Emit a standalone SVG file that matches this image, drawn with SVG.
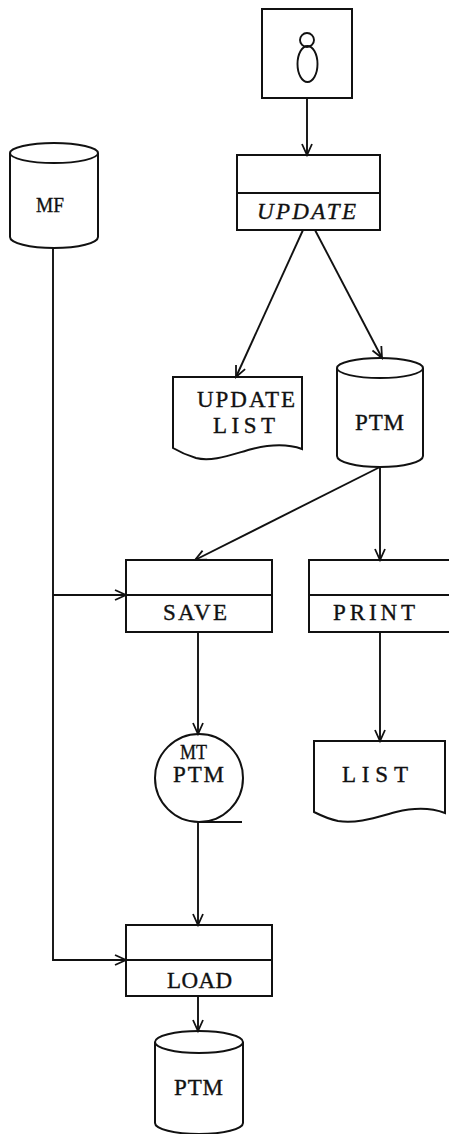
<svg xmlns="http://www.w3.org/2000/svg" width="449" height="1134" viewBox="0 0 449 1134">
  <defs>
    <marker id="arrow" markerUnits="userSpaceOnUse" markerWidth="14" markerHeight="12" refX="11" refY="5" orient="auto" overflow="visible">
      <path d="M0,0 L11,5 L0,10" fill="none" stroke="#111" stroke-width="1.8"/>
    </marker>
    <style>
      .shape { fill: #fff; stroke: #111; stroke-width: 2; }
      .line { fill: none; stroke: #111; stroke-width: 1.9; }
      .edge { fill: none; stroke: #111; stroke-width: 1.9; marker-end: url(#arrow); }
      .label { font-family: "Liberation Serif", "DejaVu Serif", serif; font-size: 23px; fill: #111; stroke: #111; stroke-width: 0.35; }
      .small { font-size: 21px; }
      .ital { font-style: italic; }
    </style>
  </defs>
  <rect width="449" height="1134" fill="#fff"/>

  <!-- operator console -->
  <g id="console">
    <rect class="shape" x="262" y="9" width="90" height="89"/>
    <circle class="line" cx="307" cy="40" r="7"/>
    <ellipse class="line" cx="307.5" cy="64" rx="10" ry="18"/>
  </g>

  <!-- UPDATE process -->
  <g id="update">
    <rect class="shape" x="237" y="155" width="143" height="75"/>
    <line class="line" x1="237" y1="193" x2="380" y2="193"/>
    <text class="label ital" x="257" y="219" textLength="99" lengthAdjust="spacing">UPDATE</text>
  </g>

  <!-- MF disk file -->
  <g id="mf">
    <path class="shape" d="M10,153 A44,10 0 0 1 98,153 L98,237 A44,11 0 0 1 10,237 Z"/>
    <path class="line" d="M10,153 A44,10 0 0 0 98,153"/>
    <text class="label small" x="36" y="212" textLength="28" lengthAdjust="spacingAndGlyphs">MF</text>
  </g>

  <!-- UPDATE LIST report -->
  <g id="update-list">
    <path class="shape" d="M173,377 L302,377 L302,449 C288,444 272,444 252,449 C230,455 212,462 196,458 C186,455 178,451 173,448 Z"/>
    <text class="label" x="197" y="407" textLength="98" lengthAdjust="spacing">UPDATE</text>
    <text class="label" x="213" y="433" textLength="62" lengthAdjust="spacing">LIST</text>
  </g>

  <!-- PTM disk file -->
  <g id="ptm-1">
    <path class="shape" d="M337,368 A43,10 0 0 1 423,368 L423,456 A43,11 0 0 1 337,456 Z"/>
    <path class="line" d="M337,368 A43,10 0 0 0 423,368"/>
    <text class="label" x="355" y="430" textLength="49" lengthAdjust="spacing">PTM</text>
  </g>

  <!-- SAVE process -->
  <g id="save">
    <rect class="shape" x="126" y="560" width="146" height="72"/>
    <line class="line" x1="126" y1="595" x2="272" y2="595"/>
    <text class="label" x="163" y="620" textLength="64" lengthAdjust="spacing">SAVE</text>
  </g>

  <!-- PRINT process -->
  <g id="print">
    <rect class="shape" x="309" y="560" width="160" height="72"/>
    <line class="line" x1="309" y1="595" x2="469" y2="595"/>
    <text class="label" x="333" y="620" textLength="82" lengthAdjust="spacing">PRINT</text>
  </g>

  <!-- MT PTM magnetic tape -->
  <g id="mt-ptm">
    <circle class="shape" cx="199" cy="778" r="44"/>
    <line class="line" x1="199" y1="822" x2="242" y2="822"/>
    <text class="label small" x="180" y="759" textLength="27" lengthAdjust="spacingAndGlyphs">MT</text>
    <text class="label" x="173" y="782" textLength="51" lengthAdjust="spacing">PTM</text>
  </g>

  <!-- LIST report -->
  <g id="list">
    <path class="shape" d="M314,741 L445,741 L445,813 C432,808 416,807 396,812 C374,818 356,824 338,821 C328,819 320,815 314,812 Z"/>
    <text class="label" x="342" y="782" textLength="66" lengthAdjust="spacing">LIST</text>
  </g>

  <!-- LOAD process -->
  <g id="load">
    <rect class="shape" x="126" y="925" width="146" height="71"/>
    <line class="line" x1="126" y1="960" x2="272" y2="960"/>
    <text class="label" x="167" y="988" textLength="65" lengthAdjust="spacing">LOAD</text>
  </g>

  <!-- PTM disk file (reloaded) -->
  <g id="ptm-2">
    <path class="shape" d="M155,1042 A44,11 0 0 1 243,1042 L243,1123 A44,11 0 0 1 155,1123 Z"/>
    <path class="line" d="M155,1042 A44,11 0 0 0 243,1042"/>
    <text class="label" x="174" y="1095" textLength="49" lengthAdjust="spacing">PTM</text>
  </g>

  <!-- flow lines -->
  <g id="connectors">
    <line class="edge" x1="307" y1="98" x2="307" y2="155"/>
    <line class="edge" x1="303" y1="230" x2="236" y2="377"/>
    <line class="edge" x1="315" y1="230" x2="382" y2="358"/>
    <line class="edge" x1="380" y1="467" x2="195" y2="560"/>
    <line class="edge" x1="380" y1="467" x2="380" y2="560"/>
    <path class="edge" d="M53,248 L53,960 L126,960"/>
    <line class="edge" x1="53" y1="595" x2="126" y2="595"/>
    <line class="edge" x1="198" y1="632" x2="198" y2="734"/>
    <line class="edge" x1="380" y1="632" x2="380" y2="741"/>
    <line class="edge" x1="198" y1="822" x2="198" y2="925"/>
    <line class="edge" x1="198" y1="996" x2="198" y2="1031"/>
  </g>
</svg>
